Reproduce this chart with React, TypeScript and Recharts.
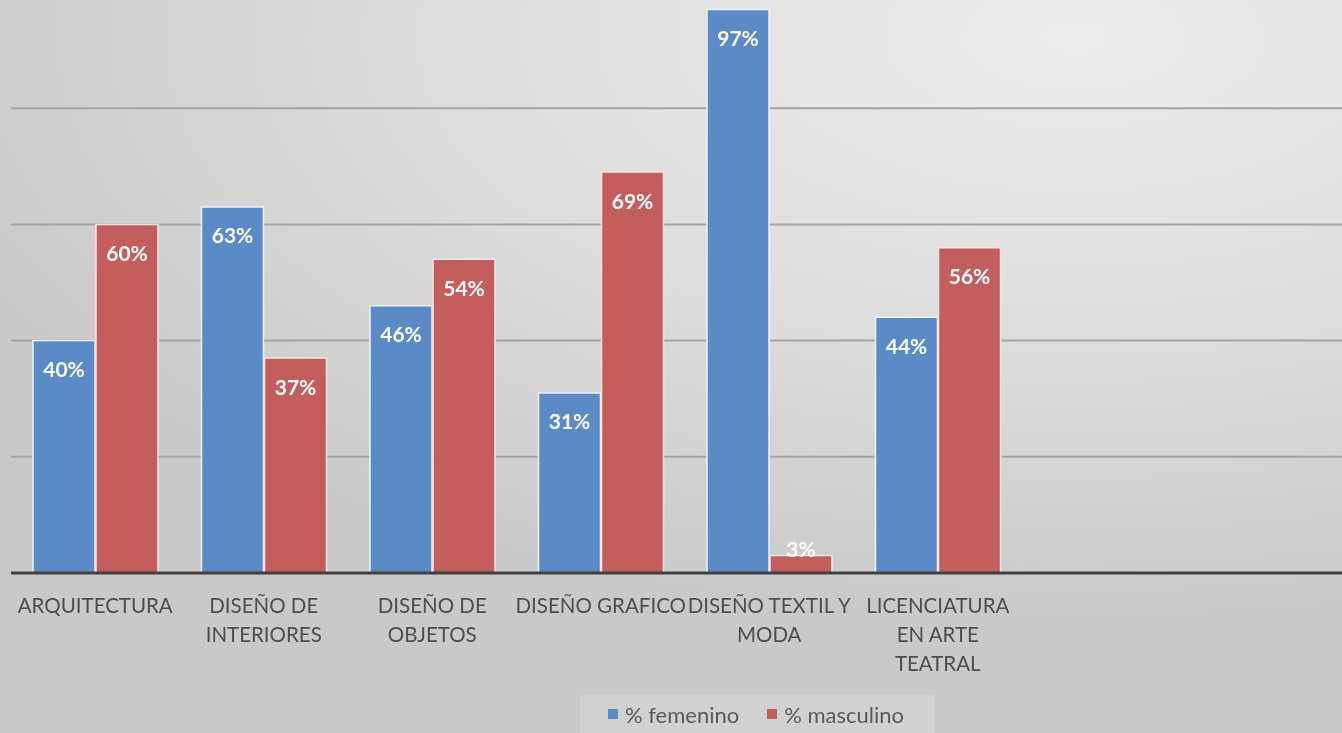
import { Bar, BarChart, CartesianGrid, LabelList, Legend, XAxis, YAxis } from "recharts";

const categories = [
  "ARQUITECTURA",
  "DISEÑO DE INTERIORES",
  "DISEÑO DE OBJETOS",
  "DISEÑO GRAFICO",
  "DISEÑO TEXTIL Y MODA",
  "LICENCIATURA EN ARTE TEATRAL",
  "",
  "",
];
const femenino = [40, 63, 46, 31, 97, 44, null, null];
const masculino = [60, 37, 54, 69, 3, 56, null, null];
const yTicks = [0, 20, 40, 60, 80, 100];

// how Excel wrapped the category names
const tickLines: Record<string, string[]> = {
  "DISEÑO DE INTERIORES": ["DISEÑO DE", "INTERIORES"],
  "DISEÑO DE OBJETOS": ["DISEÑO DE", "OBJETOS"],
  "DISEÑO TEXTIL Y MODA": ["DISEÑO TEXTIL Y", "MODA"],
  "LICENCIATURA EN ARTE TEATRAL": ["LICENCIATURA", "EN ARTE", "TEATRAL"],
};

const data = categories.map((name, i) => ({
  name: name || `empty-${i}`,
  femenino: femenino[i],
  masculino: masculino[i],
}));

const FONT = "Lato, 'Open Sans', sans-serif";
const BLUE = "#5b8bc6";
const RED = "#c45e5c";

function CategoryTick({ x, y, payload }: any) {
  const name: string = payload.value.startsWith("empty-") ? "" : payload.value;
  const lines = tickLines[name] ?? [name];
  return (
    <text x={x} y={y + 26} textAnchor="middle" fill="#4d4d4d" fontSize={20.5} fontFamily={FONT}>
      {lines.map((line, i) => (
        <tspan key={i} x={x} dy={i === 0 ? 6 : 29}>
          {line}
        </tspan>
      ))}
    </text>
  );
}

function ValueLabel({ x, y, width, height, value }: any) {
  if (value == null) return null;
  const cy = height < 40 ? y + height - 25 : y + 28;
  return (
    <text
      x={x + width / 2}
      y={cy}
      textAnchor="middle"
      dominantBaseline="central"
      fill="#ffffff"
      fontSize={21}
      fontWeight={700}
      fontFamily={FONT}
    >
      {`${value}%`}
    </text>
  );
}

function LegendBox() {
  const item = (color: string, label: string) => (
    <span style={{ display: "inline-flex", alignItems: "center", marginRight: 28 }}>
      <span style={{ width: 10, height: 10, background: color, marginRight: 7 }} />
      {label}
    </span>
  );
  return (
    <div
      style={{
        height: 38,
        background: "rgba(255,255,255,0.15)",
        display: "flex",
        alignItems: "center",
        paddingLeft: 28,
        fontFamily: FONT,
        fontSize: 22,
        color: "#595959",
        boxSizing: "border-box",
      }}
    >
      {item(BLUE, "% femenino")}
      {item(RED, "% masculino")}
    </div>
  );
}

export default function App() {
  return (
    <div
      style={{
        position: "fixed",
        left: 0,
        top: 0,
        width: 1342,
        height: 733,
        overflow: "hidden",
        background:
          "radial-gradient(ellipse 90% 80% at 80% 5%, #ececec 0%, #dcdcdc 55%, #c9c9c9 100%)",
      }}
    >
      <div style={{ position: "absolute", left: 0, top: -8 }}>
        <BarChart
          width={1370}
          height={741}
          data={data}
          margin={{ top: 0, right: 11, left: 11, bottom: 0 }}
          barGap={1}
          barSize={62}
        >
          <CartesianGrid vertical={false} stroke="#a3a3a3" strokeWidth={2} />
          <YAxis hide domain={[0, 100]} ticks={yTicks} />
          <XAxis
            dataKey="name"
            interval={0}
            height={122}
            tickLine={false}
            axisLine={{ stroke: "#404040", strokeWidth: 3 }}
            tick={<CategoryTick />}
          />
          <Legend
            verticalAlign="bottom"
            height={38}
            content={<LegendBox />}
            wrapperStyle={{ left: 580, width: 355, bottom: 0 }}
          />
          <Bar dataKey="femenino" fill={BLUE} stroke="#eef3fa" strokeWidth={1.5} isAnimationActive={false}>
            <LabelList dataKey="femenino" content={<ValueLabel />} />
          </Bar>
          <Bar dataKey="masculino" fill={RED} stroke="#f7e6e6" strokeWidth={1.5} isAnimationActive={false}>
            <LabelList dataKey="masculino" content={<ValueLabel />} />
          </Bar>
        </BarChart>
      </div>
    </div>
  );
}
